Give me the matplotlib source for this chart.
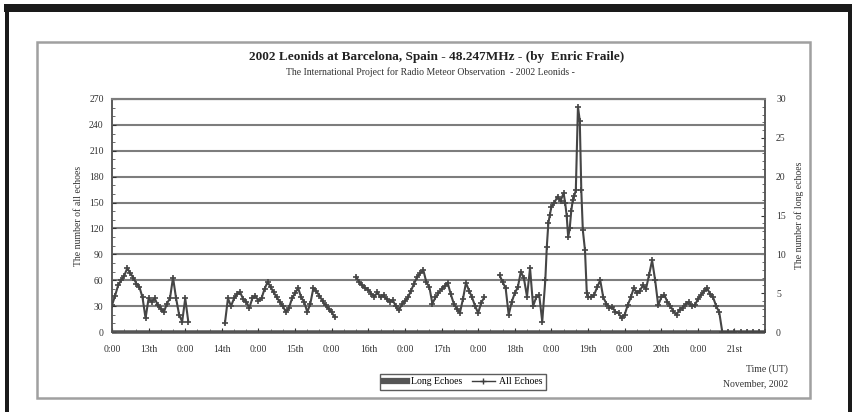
import numpy as np
import matplotlib
matplotlib.use("Agg")
import matplotlib.pyplot as plt
from matplotlib.lines import Line2D
from matplotlib.patches import Rectangle

plt.rcParams['font.family'] = ['Liberation Serif', 'DejaVu Serif']

# ---------------- data (hours from start of record) ----------------
seg1_hours = [0, 1, 2, 3, 4, 5, 6, 7, 8, 9, 10, 11, 12, 13, 14, 15, 16, 17, 18, 19, 20, 21, 22, 23, 24, 25]
seg1_values = [31, 42, 54, 60, 65, 74, 68, 63, 56, 52, 40, 16, 39, 35, 39, 31, 27, 23, 33, 39, 63, 39, 20, 12, 39, 12]

seg2_hours = [37, 38, 39, 40, 41, 42, 43, 44, 45, 46, 47, 48, 49, 50, 51, 52, 53, 54, 55, 56, 57, 58, 59,
              60, 61, 62, 63, 64, 65, 66, 67, 68, 69, 70, 71, 72, 73]
seg2_values = [10, 39, 30, 39, 44, 46, 38, 35, 28, 39, 42, 36, 39, 50, 58, 52, 46, 40, 35, 30, 23, 28, 39,
               45, 51, 40, 35, 23, 33, 51, 47, 42, 36, 31, 27, 23, 17]

seg3_hours = [80, 81, 82, 83, 84, 85, 86, 87, 88, 89, 90, 91, 92, 93, 94, 95, 96, 97, 98, 99, 100, 101,
              102, 103, 104, 105, 106, 107, 108, 109, 110, 111, 112, 113, 114, 115, 116, 117, 118, 119,
              120, 121, 122]
seg3_values = [64, 58, 54, 51, 49, 44, 41, 46, 40, 43, 38, 35, 37, 30, 25, 32, 36, 40, 48, 56, 64, 68,
               72, 58, 52, 33, 40, 45, 50, 53, 57, 44, 33, 27, 22, 38, 57, 48, 40, 30, 22, 34, 40]

seg4_hours = [127, 128, 129, 130, 131, 132, 133, 134, 135, 136, 137, 138, 139, 140, 141, 142, 142.5,
              143, 143.5, 144, 145, 146, 147, 148, 148.5, 149, 149.5, 150, 150.5, 151, 151.5, 152,
              152.7, 153.3, 153.8, 154.3, 155, 155.6, 156, 157, 158, 159, 160, 161, 162, 163, 164,
              165, 166, 167, 168, 169, 170, 171, 172, 173, 174, 175, 176, 177, 178, 179, 180, 181,
              182, 183, 184, 185, 186, 187, 188, 189, 190, 191, 192, 193, 194, 195, 196, 197, 198,
              199, 200, 202, 204, 206, 208, 210, 212, 214]
seg4_values = [66, 58, 51, 20, 35, 45, 52, 70, 62, 41, 74, 30, 40, 43, 12, 60, 99,
               126, 136, 145, 150, 157, 152, 161, 150, 135, 110, 120, 140, 153, 158, 164,
               261, 245, 164, 118, 95, 45, 41, 40, 43, 52, 60, 40, 33, 28, 29,
               23, 22, 16, 20, 31, 40, 51, 45, 48, 54, 50, 66, 83, 60, 31, 40, 43,
               35, 30, 24, 20, 26, 28, 32, 35, 30, 31, 38, 43, 47, 51, 44, 40, 30,
               23, 0, 0, 0, 0, 0, 0, 0, 0]

long_hours = [0, 24, 48, 72, 96, 120, 144, 168, 192, 214]
long_values = [0, 0, 0, 0, 0, 0, 0, 0, 0, 0]

tick_hours = [0, 12, 24, 36, 48, 60, 72, 84, 96, 108, 120, 132, 144, 156, 168, 180, 192, 204]
tick_labels = ["0:00", "13th", "0:00", "14th", "0:00", "15th", "0:00", "16th", "0:00", "17th",
               "0:00", "18th", "0:00", "19th", "0:00", "20th", "0:00", "21st"]

title = "2002 Leonids at Barcelona, Spain - 48.247MHz - (by  Enric Fraile)"
subtitle = "The International Project for Radio Meteor Observation  - 2002 Leonids -"

# ---------------- figure ----------------
W, H = 854, 412
fig = plt.figure(figsize=(W / 100, H / 100), dpi=100)
fig.patch.set_facecolor('white')

def fx(px):
    return px / W

def fy(py):
    return 1 - py / H

# outer black frame (scan)
for rect in [Rectangle((fx(4), fy(12)), fx(848), 8 / H),
             Rectangle((fx(5), 0), 4 / W, fy(4)),
             Rectangle((fx(848), 0), 4 / W, fy(4))]:
    rect.set_transform(fig.transFigure)
    rect.set_facecolor('#1a1a1a')
    rect.set_edgecolor('none')
    rect.set_zorder(-5)
    fig.patches.append(rect)
# chart box
box = Rectangle((fx(37), fy(398)), (810 - 37) / W, (398 - 42) / H,
                transform=fig.transFigure, facecolor='white',
                edgecolor='#a0a0a0', linewidth=1.8, zorder=-5)
fig.patches.append(box)

ax = fig.add_axes([fx(112), fy(332), (765 - 112) / W, (332 - 99) / H])
ax2 = ax.twinx()

gray = '#7d7d7d'
for v in range(30, 271, 30):
    ax.axhline(v, color=gray, lw=1.5, zorder=1)

# long echoes (secondary axis)
ax2.plot(long_hours, long_values, color='#606060', lw=2.6, solid_capstyle='butt', zorder=2, clip_on=False)

# all echoes
nan = [np.nan]
xs = seg1_hours + nan + seg2_hours + nan + seg3_hours + nan + seg4_hours
ys = seg1_values + nan + seg2_values + nan + seg3_values + nan + seg4_values
ax.plot(xs, ys, color='#454545', lw=1.5, marker='+', ms=5, mew=1.2, zorder=3)

ax.set_zorder(ax2.get_zorder() + 1)
ax.patch.set_visible(False)

ax.set_xlim(0, 214)
ax.set_ylim(0, 270)
ax2.set_ylim(0, 30)

ax.set_yticks(range(0, 271, 30))
ax.set_yticks(range(0, 271, 10), minor=True)
ax2.set_yticks(range(0, 31, 5))
ax2.set_yticks(range(0, 31, 1), minor=True)
ax.set_xticks(tick_hours)
ax.set_xticklabels(tick_labels)
ax.set_xticks(range(0, 215, 4), minor=True)

for a in (ax, ax2):
    for s in a.spines.values():
        s.set_color('#555555')
        s.set_linewidth(1.1)
    a.spines['top'].set_color(gray)
    a.spines['top'].set_linewidth(1.5)

ax.tick_params(axis='both', which='major', labelsize=7, colors='#333333', length=3, width=0.8, direction='in', pad=6)
ax.tick_params(axis='both', which='minor', length=2, width=0.6, direction='in', colors='#555555')
ax.tick_params(axis='x', which='major', length=3, pad=9)
ax2.tick_params(axis='y', which='major', labelsize=7, colors='#333333', length=3, width=0.8, direction='in', pad=8)
ax2.tick_params(axis='y', which='minor', length=2, width=0.6, direction='in', colors='#555555')

ax.set_ylabel("The number of all echoes", fontsize=7, color='#333333', labelpad=4)
ax2.set_ylabel("The number of long echoes", fontsize=7, color='#333333', labelpad=6, rotation=90)

fig.text(fx(437), fy(57), title, ha='center', va='center', fontsize=9.5, fontweight='bold', color='#222222')
fig.text(fx(430), fy(72), subtitle, ha='center', va='center', fontsize=7, color='#333333')
fig.text(fx(788), fy(369), "Time (UT)", ha='right', va='center', fontsize=7, color='#333333')
fig.text(fx(788), fy(384), "November, 2002", ha='right', va='center', fontsize=7, color='#333333')

handles = [Line2D([], [], color='#555555', lw=4.5),
           Line2D([], [], color='#3d3d3d', lw=1.0, marker='+', ms=4)]
leg = fig.legend(handles, ["Long Echoes", "All Echoes"], loc='center', ncol=2,
                 bbox_to_anchor=(fx(463), fy(382)), fontsize=7, frameon=True, fancybox=False,
                 handlelength=2.4, handletextpad=0.4, columnspacing=1.0, borderpad=0.4)
leg.get_frame().set_edgecolor('#333333')
leg.get_frame().set_linewidth(1.0)

fig.savefig("out.png", dpi=100)
